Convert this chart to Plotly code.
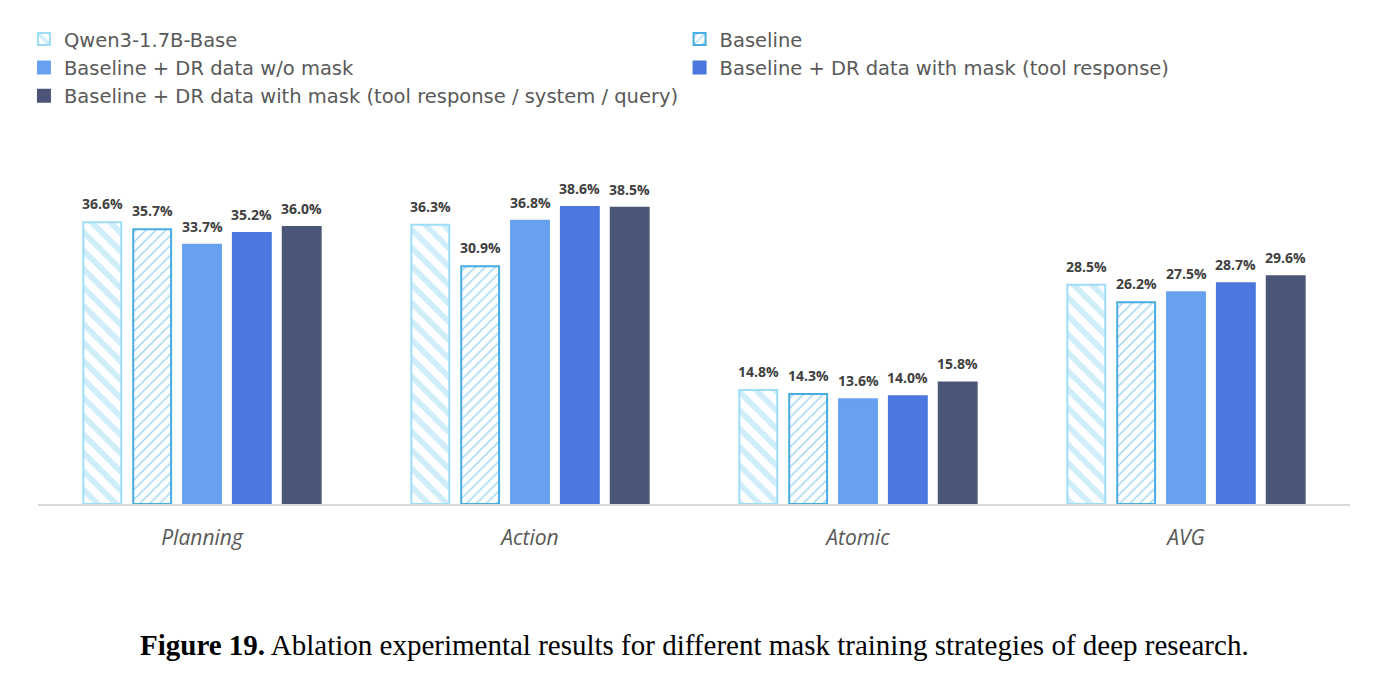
import plotly.graph_objects as go

categories = ["Planning", "Action", "Atomic", "AVG"]
series_names = [
    "Qwen3-1.7B-Base",
    "Baseline",
    "Baseline + DR data w/o mask",
    "Baseline + DR data with mask (tool response)",
    "Baseline + DR data with mask (tool response / system / query)",
]
qwen_base = [36.6, 36.3, 14.8, 28.5]
baseline = [35.7, 30.9, 14.3, 26.2]
dr_no_mask = [33.7, 36.8, 13.6, 27.5]
dr_mask_tool = [35.2, 38.6, 14.0, 28.7]
dr_mask_all = [36.0, 38.5, 15.8, 29.6]
values = [qwen_base, baseline, dr_no_mask, dr_mask_tool, dr_mask_all]

styles = [
    dict(color="white", line="#9fdcf6", legend="legend",
         pattern=dict(shape="\\", fgcolor="#9fdcf6", bgcolor="white", size=13, solidity=0.45, fillmode="overlay")),
    dict(color="white", line="#45ade2", legend="legend2",
         pattern=dict(shape="/", fgcolor="#45ade2", bgcolor="white", size=7, solidity=0.22, fillmode="overlay")),
    dict(color="#68a1ef", line="#68a1ef", legend="legend", pattern=None),
    dict(color="#4b77de", line="#4b77de", legend="legend2", pattern=None),
    dict(color="#4a5578", line="#4a5578", legend="legend", pattern=None),
]

BARGAP = 0.24
BARGROUPGAP = 0.24
PLOT_W = 1375 - 38 - 25
n = len(series_names)
slot_px = PLOT_W / len(categories) * (1 - BARGAP) / n

fig = go.Figure()
for j, (name, vals, st) in enumerate(zip(series_names, values, styles)):
    marker = dict(color=st["color"], line=dict(color=st["line"], width=2))
    if st["pattern"]:
        marker["pattern"] = st["pattern"]
    fig.add_trace(go.Bar(name=name, x=categories, y=vals, marker=marker, legend=st["legend"]))
    for c, v in zip(categories, vals):
        fig.add_annotation(
            x=c, y=v, xref="x", yref="y", text=f"{v:.1f}%", showarrow=False,
            xanchor="center", yanchor="bottom", xshift=(j - (n - 1) / 2) * slot_px, yshift=7,
            font=dict(family="Open Sans", size=14, color="#404040", weight="bold"),
        )

legend_font = dict(family="DejaVu Sans", size=19.5, color="#595959")
fig.update_layout(
    width=1375, height=676,
    margin=dict(l=38, r=25, t=150, b=172, autoexpand=False),
    paper_bgcolor="white", plot_bgcolor="white",
    barmode="group", bargap=BARGAP, bargroupgap=BARGROUPGAP,
    showlegend=True,
    legend=dict(orientation="v", x=-0.0107, xanchor="left", y=0.9706, yref="container", yanchor="top",
                traceorder="normal", font=legend_font, itemwidth=30, tracegroupgap=0),
    legend2=dict(orientation="v", x=0.489, xanchor="left", y=0.9706, yref="container", yanchor="top",
                 traceorder="normal", font=legend_font, itemwidth=30, tracegroupgap=0),
    xaxis=dict(showgrid=False, showline=True, linecolor="#d9d9d9", linewidth=2, ticks="",
               tickfont=dict(family="Open Sans", size=21, color="#595959", style="italic"),
               ticklabelstandoff=14),
    yaxis=dict(range=[0, 46], visible=False, showgrid=False, zeroline=False),
    font=dict(family="Open Sans"),
)

fig.add_annotation(
    text="<b>Figure 19.</b> Ablation experimental results for different mask training strategies of deep research.",
    xref="paper", yref="paper", x=0.5, y=-0.398, xanchor="center", yanchor="middle",
    showarrow=False, font=dict(family="Liberation Serif", size=29, color="black"),
)

fig.write_html("out.html")
